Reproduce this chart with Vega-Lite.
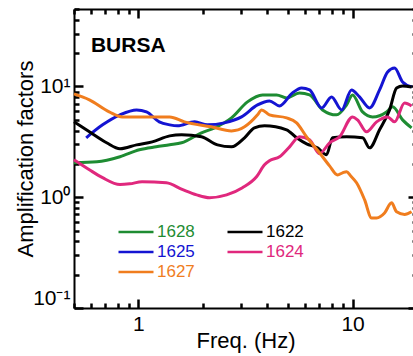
{
  "$schema": "https://vega.github.io/schema/vega-lite/v6.json",
  "autosize": "none",
  "width": 343,
  "height": 299,
  "padding": {"left": 74, "top": 9, "right": -4, "bottom": 48},
  "background": "white",
  "config": {"view": {"stroke": null}, "font": "Liberation Sans"},
  "datasets": {"curves": [
    {"s":"1628","f":0.50,"a":2.05},{"s":"1628","f":0.64,"a":2.09},{"s":"1628","f":0.82,"a":2.32},{"s":"1628","f":1.01,"a":2.68},{"s":"1628","f":1.21,"a":2.85},{"s":"1628","f":1.40,"a":2.97},{"s":"1628","f":1.59,"a":3.10},{"s":"1628","f":1.97,"a":3.81},{"s":"1628","f":2.27,"a":4.23},{"s":"1628","f":2.72,"a":5.20},{"s":"1628","f":3.23,"a":7.25},{"s":"1628","f":3.80,"a":8.38},{"s":"1628","f":4.42,"a":8.38},{"s":"1628","f":4.92,"a":7.88},{"s":"1628","f":5.65,"a":8.74},{"s":"1628","f":6.30,"a":8.38},{"s":"1628","f":7.24,"a":6.14},{"s":"1628","f":8.42,"a":5.54},{"s":"1628","f":9.38,"a":6.81},{"s":"1628","f":10.0,"a":8.38},{"s":"1628","f":11.14,"a":5.89},{"s":"1628","f":12.40,"a":5.31},{"s":"1628","f":14.42,"a":5.89},{"s":"1628","f":15.38,"a":6.54},{"s":"1628","f":17.13,"a":4.99},{"s":"1628","f":18.87,"a":4.23},
    {"s":"1625","f":0.57,"a":3.44},{"s":"1625","f":0.68,"a":4.50},{"s":"1625","f":0.82,"a":5.54},{"s":"1625","f":0.98,"a":6.14},{"s":"1625","f":1.09,"a":5.89},{"s":"1625","f":1.25,"a":4.79},{"s":"1625","f":1.40,"a":4.50},{"s":"1625","f":1.52,"a":4.41},{"s":"1625","f":1.83,"a":4.79},{"s":"1625","f":2.10,"a":4.50},{"s":"1625","f":2.52,"a":4.69},{"s":"1625","f":3.03,"a":5.31},{"s":"1625","f":3.60,"a":6.81},{"s":"1625","f":4.09,"a":7.40},{"s":"1625","f":4.56,"a":6.67},{"s":"1625","f":5.24,"a":8.74},{"s":"1625","f":5.78,"a":9.69},{"s":"1625","f":6.30,"a":9.30},{"s":"1625","f":7.17,"a":6.40},{"s":"1625","f":7.98,"a":8.04},{"s":"1625","f":8.89,"a":6.14},{"s":"1625","f":9.89,"a":9.30},{"s":"1625","f":10.78,"a":8.04},{"s":"1625","f":12.01,"a":6.40},{"s":"1625","f":13.37,"a":9.30},{"s":"1625","f":14.58,"a":13.51},{"s":"1625","f":15.71,"a":14.68},{"s":"1625","f":17.13,"a":10.98},{"s":"1625","f":18.87,"a":9.90},
    {"s":"1622","f":0.50,"a":4.79},{"s":"1622","f":0.59,"a":3.89},{"s":"1622","f":0.71,"a":3.10},{"s":"1622","f":0.82,"a":2.74},{"s":"1622","f":0.98,"a":2.97},{"s":"1622","f":1.16,"a":3.16},{"s":"1622","f":1.40,"a":3.58},{"s":"1622","f":1.59,"a":3.66},{"s":"1622","f":1.97,"a":3.51},{"s":"1622","f":2.34,"a":2.97},{"s":"1622","f":2.72,"a":2.85},{"s":"1622","f":3.13,"a":3.44},{"s":"1622","f":3.48,"a":4.23},{"s":"1622","f":3.88,"a":4.41},{"s":"1622","f":4.92,"a":4.06},{"s":"1622","f":5.48,"a":3.44},{"s":"1622","f":6.10,"a":3.03},{"s":"1622","f":6.86,"a":2.79},{"s":"1622","f":7.56,"a":2.42},{"s":"1622","f":8.06,"a":3.44},{"s":"1622","f":9.38,"a":3.51},{"s":"1622","f":11.14,"a":3.44},{"s":"1622","f":12.01,"a":2.79},{"s":"1622","f":13.37,"a":4.06},{"s":"1622","f":14.89,"a":6.14},{"s":"1622","f":16.06,"a":9.69},{"s":"1622","f":17.13,"a":10.10},{"s":"1622","f":18.87,"a":9.90},
    {"s":"1624","f":0.50,"a":2.18},{"s":"1624","f":0.59,"a":1.77},{"s":"1624","f":0.68,"a":1.50},{"s":"1624","f":0.82,"a":1.30},{"s":"1624","f":0.91,"a":1.32},{"s":"1624","f":1.04,"a":1.38},{"s":"1624","f":1.35,"a":1.35},{"s":"1624","f":1.61,"a":1.17},{"s":"1624","f":1.87,"a":1.05},{"s":"1624","f":2.15,"a":0.99},{"s":"1624","f":2.58,"a":1.05},{"s":"1624","f":3.06,"a":1.22},{"s":"1624","f":3.56,"a":1.53},{"s":"1624","f":3.88,"a":1.96},{"s":"1624","f":4.09,"a":2.13},{"s":"1624","f":4.56,"a":2.32},{"s":"1624","f":5.08,"a":2.85},{"s":"1624","f":5.65,"a":3.51},{"s":"1624","f":6.30,"a":3.30},{"s":"1624","f":7.01,"a":2.47},{"s":"1624","f":7.81,"a":3.10},{"s":"1624","f":8.70,"a":3.51},{"s":"1624","f":10.0,"a":5.31},{"s":"1624","f":10.55,"a":4.99},{"s":"1624","f":11.63,"a":3.89},{"s":"1624","f":12.95,"a":4.79},{"s":"1624","f":14.58,"a":5.31},{"s":"1624","f":15.71,"a":4.79},{"s":"1624","f":17.50,"a":7.10},{"s":"1624","f":18.87,"a":6.67},
    {"s":"1627","f":0.50,"a":8.56},{"s":"1627","f":0.59,"a":7.56},{"s":"1627","f":0.73,"a":5.89},{"s":"1627","f":0.84,"a":5.31},{"s":"1627","f":1.04,"a":5.31},{"s":"1627","f":1.40,"a":5.31},{"s":"1627","f":1.64,"a":4.79},{"s":"1627","f":2.19,"a":4.32},{"s":"1627","f":2.72,"a":3.97},{"s":"1627","f":3.13,"a":4.32},{"s":"1627","f":3.60,"a":5.54},{"s":"1627","f":3.76,"a":6.14},{"s":"1627","f":4.09,"a":5.54},{"s":"1627","f":4.92,"a":5.20},{"s":"1627","f":5.48,"a":4.69},{"s":"1627","f":6.10,"a":3.51},{"s":"1627","f":7.01,"a":2.52},{"s":"1627","f":7.81,"a":1.92},{"s":"1627","f":8.51,"a":1.59},{"s":"1627","f":8.98,"a":1.66},{"s":"1627","f":9.38,"a":1.70},{"s":"1627","f":9.79,"a":1.56},{"s":"1627","f":10.44,"a":1.35},{"s":"1627","f":11.38,"a":0.95},{"s":"1627","f":12.27,"a":0.65},{"s":"1627","f":12.95,"a":0.65},{"s":"1627","f":14.11,"a":0.72},{"s":"1627","f":15.21,"a":0.89},{"s":"1627","f":16.06,"a":0.74},{"s":"1627","f":17.50,"a":0.70},{"s":"1627","f":18.87,"a":0.74}
  ],
  "label": [{"t": "BURSA", "f": 0.6, "a": 20.5}]},
  "data": {"name": "curves"},
  "resolve": {"axis": {"x": "independent", "y": "independent"}},
  "layer": [
    {
      "mark": {"type": "line", "strokeWidth": 3, "interpolate": "monotone"},
      "encoding": {
        "x": {"field": "f", "type": "quantitative",
          "scale": {"type": "log", "domain": [0.5, 20], "nice": false},
          "axis": {"orient": "bottom", "title": "Freq. (Hz)", "grid": false,
            "values": [1, 10],
            "labelOverlap": false,
            "tickSize": -9,
            "tickColor": "black", "tickWidth": 2.5,
            "domainColor": "black", "domainWidth": 2,
            "labelPadding": 14, "labelFontSize": 21, "labelFont": "Liberation Sans", "labelColor": "black",
            "titleFontSize": 22, "titleFont": "Liberation Sans", "titleFontWeight": "normal", "titleColor": "black", "titlePadding": -4}},
        "y": {"field": "a", "type": "quantitative",
          "scale": {"type": "log", "domain": [0.1, 50], "nice": false},
          "axis": {"orient": "left", "title": "Amplification factors", "grid": false,
            "values": [0.1, 1, 10],
            "labelExpr": "datum.value == 0.1 ? '10⁻¹' : datum.value == 1 ? '10⁰' : '10¹'",
            "labelOverlap": false, "labelFlush": true,
            "tickSize": -9,
            "tickColor": "black", "tickWidth": 2.5,
            "domainColor": "black", "domainWidth": 2,
            "labelPadding": 13, "labelFontSize": 21, "labelFont": "Liberation Sans", "labelColor": "black",
            "titleFontSize": 22, "titleFont": "Liberation Sans", "titleFontWeight": "normal", "titleColor": "black", "titlePadding": -5}},
        "color": {"field": "s", "type": "nominal",
          "scale": {"domain": ["1628","1625","1627","1622","1624"], "range": ["#1E8C32","#1414D2","#F07D1E","#000000","#E0287D"]},
          "legend": {"orient": "none", "legendX": 43, "legendY": 213, "columns": 2, "columnPadding": 31, "rowPadding": 0,
            "clipHeight": 20, "symbolType": "stroke", "symbolSize": 1225, "symbolStrokeWidth": 2.5,
            "labelFontSize": 17, "labelFont": "Liberation Sans", "labelOffset": 2, "title": null, "padding": 0,
            "encode": {"labels": {"update": {"fill": {"scale": "color", "field": "value"}}}}}}
      }
    },
    {
      "data": {"name": "label"},
      "mark": {"type": "text", "align": "left", "baseline": "alphabetic", "fontWeight": "bold", "fontSize": 21, "font": "Liberation Sans", "color": "black"},
      "encoding": {
        "text": {"field": "t"},
        "x": {"field": "f", "type": "quantitative", "scale": {"type": "log", "domain": [0.5, 20], "nice": false},
          "axis": {"orient": "bottom", "title": null, "labels": false, "grid": false, "domain": false,
            "values": [0.5,0.6,0.7,0.8,0.9,2,3,4,5,6,7,8,9,20], "tickSize": -5,
            "tickColor": "black", "tickWidth": 2.5}},
        "y": {"field": "a", "type": "quantitative", "scale": {"type": "log", "domain": [0.1, 50], "nice": false},
          "axis": {"orient": "left", "title": null, "labels": false, "grid": false, "domain": false,
            "values": [0.2,0.3,0.4,0.5,0.6,0.7,0.8,0.9,2,3,4,5,6,7,8,9,20,30,40,50], "tickSize": -5,
            "tickColor": "black", "tickWidth": 2.5}}
      }
    },
    {
      "mark": {"type": "point", "opacity": 0},
      "encoding": {
        "x": {"field": "f", "type": "quantitative",
          "scale": {"type": "log", "domain": [0.5, 20], "nice": false},
          "axis": {"orient": "top", "title": null, "labels": false, "grid": false,
            "values": [1, 10], "tickSize": -9,
            "tickColor": "black", "tickWidth": 2.5, "domainColor": "black", "domainWidth": 2}},
        "y": {"field": "a", "type": "quantitative",
          "scale": {"type": "log", "domain": [0.1, 50], "nice": false},
          "axis": {"orient": "right", "title": null, "labels": false, "grid": false,
            "values": [0.1, 1, 10], "tickSize": -9,
            "tickColor": "black", "tickWidth": 2.5, "domainColor": "black", "domainWidth": 2}}
      }
    },
    {
      "mark": {"type": "point", "opacity": 0},
      "encoding": {
        "x": {"field": "f", "type": "quantitative",
          "scale": {"type": "log", "domain": [0.5, 20], "nice": false},
          "axis": {"orient": "top", "title": null, "labels": false, "grid": false, "domain": false,
            "values": [0.5,0.6,0.7,0.8,0.9,2,3,4,5,6,7,8,9,20], "tickSize": -5,
            "tickColor": "black", "tickWidth": 2.5}},
        "y": {"field": "a", "type": "quantitative",
          "scale": {"type": "log", "domain": [0.1, 50], "nice": false},
          "axis": {"orient": "right", "title": null, "labels": false, "grid": false, "domain": false,
            "values": [0.2,0.3,0.4,0.5,0.6,0.7,0.8,0.9,2,3,4,5,6,7,8,9,20,30,40,50], "tickSize": -5,
            "tickColor": "black", "tickWidth": 2.5}}
      }
    }
  ]
}
